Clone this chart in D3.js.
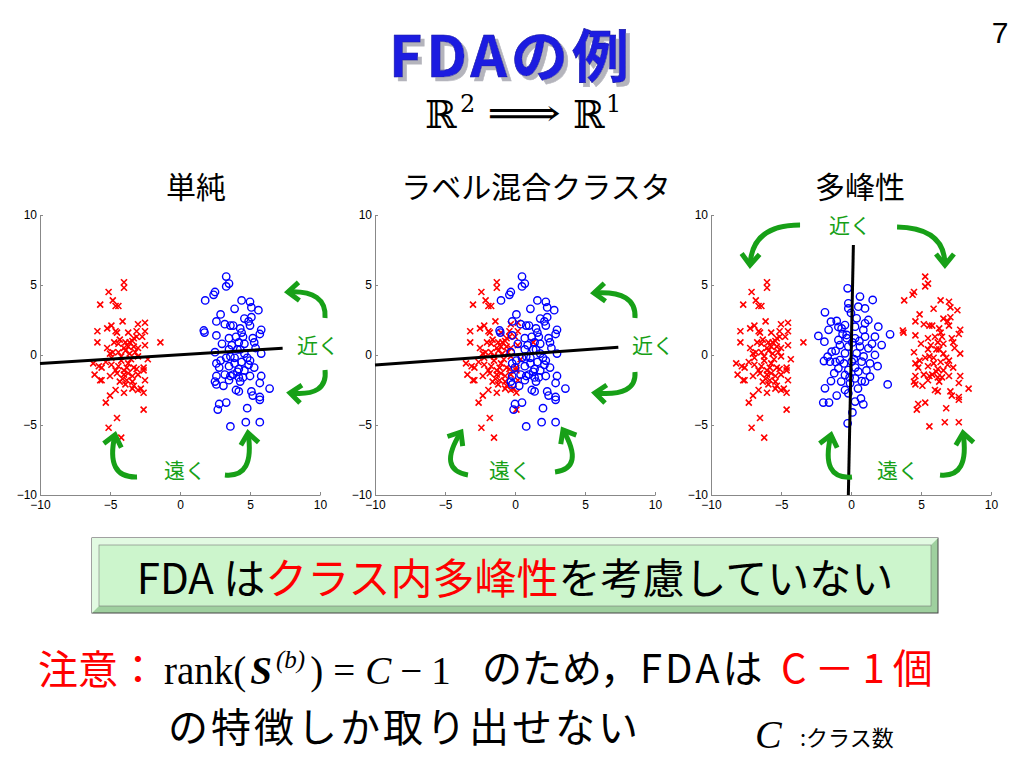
<!DOCTYPE html>
<meta charset="utf-8">
<head>
<script src="https://d3js.org/d3.v7.min.js"></script>
<style>
  body { margin: 0; background: #fff; }
  text { font-family: "Noto Sans CJK JP", "Liberation Sans", sans-serif; }
  .serif { font-family: "Liberation Serif", "DejaVu Serif", serif; }
</style>
</head>
<body>
<svg width="1024" height="768"></svg>
<script>
// ---- data ----
var panelTitles = ["単純", "ラベル混合クラスタ", "多峰性"];
var tickValues = [-10, -5, 0, 5, 10];

// panel 1 : simple
var red1 = [[-4.0,5.2],[-4.0,4.8],[-5.1,4.5],[-5.7,3.6],[-4.8,3.9],[-4.6,3.5],[-4.4,3.5],[-4.1,2.4],[-3.0,2.2],[-2.5,2.3],[-4.9,2.1],[-5.2,1.9],[-5.9,1.7],[-4.6,1.7],[-3.7,1.6],[-3.1,1.7],[-2.5,1.7],[-5.9,0.9],[-1.4,0.9],[-5.2,0.5],[-4.3,1.1],[-3.3,1.2],[-2.7,1.3],[-6.2,-0.6],[-5.6,-0.9],[-6.1,-1.4],[-5.6,-1.8],[-5.0,-1.5],[-2.3,-0.3],[-2.6,-1.1],[-2.5,-1.8],[-2.8,-2.4],[-2.6,-2.7],[-4.6,-2.5],[-5.0,-2.9],[-4.0,-2.7],[-3.4,-2.4],[-5.3,-3.4],[-2.6,-3.9],[-4.5,-4.5],[-5.1,-5.2],[-4.2,-5.9],[-4.5,1.6],[-3.1,1.3],[-3.4,1.0],[-3.9,0.9],[-4.4,0.8],[-2.5,0.7],[-4.0,0.5],[-3.7,0.6],[-4.8,0.2],[-5.0,0.1],[-3.2,0.2],[-4.2,-0.1],[-3.0,-0.1],[-5.8,-0.8],[-4.9,-0.7],[-4.4,-0.8],[-3.7,-0.6],[-3.3,-0.9],[-2.6,-0.9],[-4.5,-1.3],[-4.0,-1.4],[-3.4,-1.5],[-3.0,-1.4],[-5.7,-1.8],[-4.3,-1.9],[-3.8,-1.8],[-3.0,-2.5],[-3.9,0.3],[-3.6,0.1],[-4.2,-0.4],[-3.8,-0.9],[-4.0,-1.1],[-3.5,-0.3],[-4.4,0.2],[-3.3,0.6],[-3.7,-1.3],[-4.1,-1.7],[-3.4,-1.9],[-3.9,-2.1],[-4.6,-1.1],[-3.0,0.5],[-4.7,0.9],[-3.1,-1.0],[-3.6,0.9],[-4.9,-0.2],[-3.3,-2.2],[-5.3,-0.5]];
var blue1 = [[3.3,5.6],[3.5,5.1],[3.3,4.9],[2.5,4.5],[2.4,4.3],[1.8,3.9],[4.4,3.9],[5.0,3.8],[5.1,3.4],[5.6,3.2],[3.9,3.3],[2.9,2.9],[5.1,2.7],[4.9,2.4],[5.0,2.1],[2.6,2.4],[3.2,2.2],[3.8,2.1],[4.3,1.9],[5.8,1.8],[5.7,1.5],[1.7,1.75],[1.75,1.6],[2.6,1.4],[3.0,0.8],[2.5,0.2],[5.8,0.1],[2.6,-0.6],[2.8,-0.9],[5.3,-0.9],[5.8,-1.5],[2.6,-1.5],[2.6,-2.1],[3.6,-1.5],[5.0,-1.5],[6.4,-2.4],[5.7,-2.0],[4.2,-2.6],[5.1,-2.6],[5.2,-2.9],[5.7,-3.2],[3.3,-3.4],[2.8,-3.5],[2.7,-3.9],[4.8,-3.8],[3.6,-5.1],[4.7,-4.8],[5.7,-4.8],[3.6,2.1],[4.5,1.3],[5.2,1.2],[4.2,0.9],[4.6,0.8],[5.4,0.5],[3.5,0.4],[4.1,0.4],[4.6,0.1],[2.9,-0.4],[3.3,-0.2],[3.9,-0.2],[4.4,-0.5],[5.0,-0.4],[3.5,-0.8],[4.2,-1.0],[4.6,-1.1],[3.2,-1.4],[3.8,-1.4],[4.5,-1.6],[2.5,-1.9],[3.5,-1.8],[4.3,-1.9],[4.0,-2.5],[5.7,-3.0],[4.0,1.3],[4.3,0.4],[3.7,0.7],[4.8,-0.2],[3.9,-0.6],[4.1,-1.2],[4.9,-0.7],[3.6,-0.1],[4.4,1.6],[3.5,1.2],[4.6,2.6],[4.2,-1.6],[3.1,-2.2],[5.3,0.9]];
var line1 = [[-10,-0.6],[7.33,0.48]];

// panel 2 : label-mixed clusters
var red2 = [[-1.3,5.2],[-1.3,4.8],[-2.4,4.5],[-3.0,3.6],[-2.1,3.9],[-1.9,3.5],[-1.7,3.5],[-1.4,2.4],[-0.3,2.2],[0.2,2.3],[-2.2,2.1],[-2.5,1.9],[-3.2,1.7],[-1.9,1.7],[-1.0,1.6],[-0.4,1.7],[0.2,1.7],[-3.2,0.9],[1.3,0.9],[-2.5,0.5],[-1.6,1.1],[-0.6,1.2],[0.0,1.3],[-3.5,-0.6],[-2.9,-0.9],[-3.4,-1.4],[-2.9,-1.8],[-2.3,-1.5],[0.4,-0.3],[0.1,-1.1],[0.2,-1.8],[-0.1,-2.4],[0.1,-2.7],[-1.9,-2.5],[-2.3,-2.9],[-1.3,-2.7],[-0.7,-2.4],[-2.6,-3.4],[0.1,-3.9],[-1.8,-4.5],[-2.4,-5.2],[-1.5,-5.9],[-1.8,1.6],[-0.4,1.3],[-0.7,1.0],[-1.2,0.9],[-1.7,0.8],[0.2,0.7],[-1.3,0.5],[-1.0,0.6],[-2.1,0.2],[-2.3,0.1],[-0.5,0.2],[-1.5,-0.1],[-0.3,-0.1],[-3.1,-0.8],[-2.2,-0.7],[-1.7,-0.8],[-1.0,-0.6],[-0.6,-0.9],[0.1,-0.9],[-1.8,-1.3],[-1.3,-1.4],[-0.7,-1.5],[-0.3,-1.4],[-3.0,-1.8],[-1.6,-1.9],[-1.1,-1.8],[-0.3,-2.5],[-1.2,0.3],[-0.9,0.1],[-1.5,-0.4],[-1.1,-0.9],[-1.3,-1.1],[-0.8,-0.3],[-1.7,0.2],[-0.6,0.6],[-1.0,-1.3],[-1.4,-1.7],[-0.7,-1.9],[-1.2,-2.1],[-1.9,-1.1],[-0.3,0.5],[-2.0,0.9],[-0.4,-1.0],[-0.9,0.9],[-2.2,-0.2],[-0.6,-2.2],[-2.6,-0.5]];
var blue2 = [[0.5,5.6],[0.7,5.1],[0.5,4.9],[-0.3,4.5],[-0.4,4.3],[-1.0,3.9],[1.6,3.9],[2.2,3.8],[2.3,3.4],[2.8,3.2],[1.1,3.3],[0.1,2.9],[2.3,2.7],[2.1,2.4],[2.2,2.1],[-0.2,2.4],[0.4,2.2],[1.0,2.1],[1.5,1.9],[3.0,1.8],[2.9,1.5],[-1.1,1.75],[-1.05,1.6],[-0.2,1.4],[0.2,0.8],[-0.3,0.2],[3.0,0.1],[-0.2,-0.6],[0.0,-0.9],[2.5,-0.9],[3.0,-1.5],[-0.2,-1.5],[-0.2,-2.1],[0.8,-1.5],[2.2,-1.5],[3.6,-2.4],[2.9,-2.0],[1.4,-2.6],[2.3,-2.6],[2.4,-2.9],[2.9,-3.2],[0.5,-3.4],[0.0,-3.5],[-0.1,-3.9],[2.0,-3.8],[0.8,-5.1],[1.9,-4.8],[2.9,-4.8],[0.8,2.1],[1.7,1.3],[2.4,1.2],[1.4,0.9],[1.8,0.8],[2.6,0.5],[0.7,0.4],[1.3,0.4],[1.8,0.1],[0.1,-0.4],[0.5,-0.2],[1.1,-0.2],[1.6,-0.5],[2.2,-0.4],[0.7,-0.8],[1.4,-1.0],[1.8,-1.1],[0.4,-1.4],[1.0,-1.4],[1.7,-1.6],[-0.3,-1.9],[0.7,-1.8],[1.5,-1.9],[1.2,-2.5],[2.9,-3.0],[1.2,1.3],[1.5,0.4],[0.9,0.7],[2.0,-0.2],[1.1,-0.6],[1.3,-1.2],[2.1,-0.7],[0.8,-0.1],[1.6,1.6],[0.7,1.2],[1.8,2.6],[1.4,-1.6],[0.3,-2.2],[2.5,0.9]];
var line2 = [[-10,-0.71],[7.38,0.55]];

// panel 3 : multimodal
var red3a = [[-6.0,5.2],[-6.0,4.8],[-7.1,4.5],[-7.7,3.6],[-6.8,3.9],[-6.6,3.5],[-6.4,3.5],[-6.1,2.4],[-5.0,2.2],[-4.5,2.3],[-6.9,2.1],[-7.2,1.9],[-7.9,1.7],[-6.6,1.7],[-5.7,1.6],[-5.1,1.7],[-4.5,1.7],[-7.9,0.9],[-3.4,0.9],[-7.2,0.5],[-6.3,1.1],[-5.3,1.2],[-4.7,1.3],[-8.2,-0.6],[-7.6,-0.9],[-8.1,-1.4],[-7.6,-1.8],[-7.0,-1.5],[-4.3,-0.3],[-4.6,-1.1],[-4.5,-1.8],[-4.8,-2.4],[-4.6,-2.7],[-6.6,-2.5],[-7.0,-2.9],[-6.0,-2.7],[-5.4,-2.4],[-7.3,-3.4],[-4.6,-3.9],[-6.5,-4.5],[-7.1,-5.2],[-6.2,-5.9],[-6.5,1.6],[-5.1,1.3],[-5.4,1.0],[-5.9,0.9],[-6.4,0.8],[-4.5,0.7],[-6.0,0.5],[-5.7,0.6],[-6.8,0.2],[-7.0,0.1],[-5.2,0.2],[-6.2,-0.1],[-5.0,-0.1],[-7.8,-0.8],[-6.9,-0.7],[-6.4,-0.8],[-5.7,-0.6],[-5.3,-0.9],[-4.6,-0.9],[-6.5,-1.3],[-6.0,-1.4],[-5.4,-1.5],[-5.0,-1.4],[-7.7,-1.8],[-6.3,-1.9],[-5.8,-1.8],[-5.0,-2.5],[-5.9,0.3],[-5.6,0.1],[-6.2,-0.4],[-5.8,-0.9],[-6.0,-1.1],[-5.5,-0.3],[-6.4,0.2],[-5.3,0.6],[-5.7,-1.3],[-6.1,-1.7],[-5.4,-1.9],[-5.9,-2.1],[-6.6,-1.1],[-5.0,0.5],[-6.7,0.9],[-5.1,-1.0],[-5.6,0.9],[-6.9,-0.2],[-5.3,-2.2],[-7.3,-0.5]];
var red3b = [[5.3,5.6],[5.5,5.1],[5.3,4.9],[4.5,4.5],[4.4,4.3],[3.8,3.9],[6.4,3.9],[7.0,3.8],[7.1,3.4],[7.6,3.2],[5.9,3.3],[4.9,2.9],[7.1,2.7],[6.9,2.4],[7.0,2.1],[4.6,2.4],[5.2,2.2],[5.8,2.1],[6.3,1.9],[7.8,1.8],[7.7,1.5],[3.7,1.75],[3.75,1.6],[4.6,1.4],[5.0,0.8],[4.5,0.2],[7.8,0.1],[4.6,-0.6],[4.8,-0.9],[7.3,-0.9],[7.8,-1.5],[4.6,-1.5],[4.6,-2.1],[5.6,-1.5],[7.0,-1.5],[8.4,-2.4],[7.7,-2.0],[6.2,-2.6],[7.1,-2.6],[7.2,-2.9],[7.7,-3.2],[5.3,-3.4],[4.8,-3.5],[4.7,-3.9],[6.8,-3.8],[5.6,-5.1],[6.7,-4.8],[7.7,-4.8],[5.6,2.1],[6.5,1.3],[7.2,1.2],[6.2,0.9],[6.6,0.8],[7.4,0.5],[5.5,0.4],[6.1,0.4],[6.6,0.1],[4.9,-0.4],[5.3,-0.2],[5.9,-0.2],[6.4,-0.5],[7.0,-0.4],[5.5,-0.8],[6.2,-1.0],[6.6,-1.1],[5.2,-1.4],[5.8,-1.4],[6.5,-1.6],[4.5,-1.9],[5.5,-1.8],[6.3,-1.9],[6.0,-2.5],[7.7,-3.0],[6.0,1.3],[6.3,0.4],[5.7,0.7],[6.8,-0.2],[5.9,-0.6],[6.1,-1.2],[6.9,-0.7],[5.6,-0.1],[6.4,1.6],[5.5,1.2],[6.6,2.6],[6.2,-1.6],[5.1,-2.2],[7.3,0.9]];
var blue3 = [[-0.24,4.76],[0.64,4.17],[1.55,3.93],[-0.19,3.69],[0.52,3.45],[1.0,3.33],[-0.19,3.33],[-1.86,3.05],[-1.43,2.38],[-1.02,2.43],[-0.43,2.14],[0.4,2.62],[1.24,2.5],[1.0,2.26],[-0.67,1.9],[0.29,2.02],[1.95,2.02],[0.88,1.79],[2.79,1.48],[-2.33,1.36],[1.71,1.31],[-0.31,1.43],[-1.9,0.95],[-0.9,1.07],[0.29,1.19],[1.0,1.31],[2.19,0.71],[-0.79,0.71],[-0.19,0.6],[0.64,0.6],[1.24,0.48],[-1.38,0.24],[-0.43,0.12],[0.4,0.12],[1.71,0.0],[-1.67,-0.12],[-1.93,-0.43],[-1.5,-0.48],[-0.79,-0.36],[0.05,-0.48],[0.76,-0.48],[1.36,-0.6],[-0.9,-0.95],[-0.19,-1.07],[0.52,-1.19],[-0.43,-1.43],[0.29,-1.67],[0.76,-1.86],[1.36,-1.55],[1.0,-1.9],[-1.43,-1.86],[2.62,-2.1],[-0.07,-2.02],[-1.86,-2.38],[-0.43,-2.5],[-1.02,-2.9],[-0.19,-2.74],[0.71,-3.1],[-1.98,-3.4],[-1.57,-3.4],[0.29,-3.33],[0.88,-3.52],[0.1,-4.1],[-0.24,-4.88],[-0.6,1.5],[0.1,0.9],[-1.1,0.3],[0.9,-0.1],[-0.5,-0.6],[0.2,-0.3],[-1.2,-1.3],[0.6,1.0],[-0.9,2.0],[1.5,0.8],[-0.1,-1.6],[1.1,-1.1],[-1.6,1.8],[0.5,-2.4],[-0.7,-1.9],[1.9,-0.8],[-1.1,-0.5],[0.0,3.0],[0.3,-0.9],[-0.3,1.2]];
var line3 = [[0.17,7.86],[-0.19,-10]];

// green annotation arrows [start, control, tip] and labels, in data units
var arrows1 = [[[10.36,2.64],[10.5,4.64],[7.71,4.5]], [[10.36,-1.07],[10.57,-3.0],[7.86,-2.71]], [[-3.07,-8.71],[-5.36,-8.79],[-4.64,-5.71]], [[3.21,-8.57],[5.36,-8.79],[4.86,-5.57]]];
var arrows2 = [[[8.57,2.64],[8.71,4.64],[5.64,4.43]], [[8.57,-1.21],[8.71,-3.0],[5.71,-2.71]], [[-3.36,-8.57],[-5.57,-8.21],[-3.86,-5.5]], [[2.86,-8.36],[5.0,-8.07],[3.43,-5.36]]];
var arrows3 = [[[-3.64,9.29],[-7.07,9.29],[-7.21,6.43]], [[3.29,9.14],[6.71,9.07],[6.71,6.43]], [[0.07,-8.71],[-2.21,-8.93],[-1.43,-5.71]], [[6.36,-8.57],[8.5,-8.79],[8.0,-5.57]]];
var labels1 = [["近く",9.86,0.71],["遠く",0.36,-8.2]];
var labels2 = [["近く",9.86,0.71],["遠く",-0.36,-8.2]];
var labels3 = [["近く",-0.07,9.29],["遠く",3.36,-8.2]];

var panels = [
  {left: 40,  title: panelTitles[0], titleX: 196, red: [red1], blue: blue1, line: line1, arrows: arrows1, labels: labels1},
  {left: 375, title: panelTitles[1], titleX: 536, red: [red2], blue: blue2, line: line2, arrows: arrows2, labels: labels2},
  {left: 711, title: panelTitles[2], titleX: 860, red: [red3a, red3b], blue: blue3, line: line3, arrows: arrows3, labels: labels3}
];

var green = "#17a017";
var svg = d3.select("svg");
svg.append("rect").attr("width", 1024).attr("height", 768).attr("fill", "#fff");

var defs = svg.append("defs");
defs.append("marker")
  .attr("id", "chev").attr("markerUnits", "userSpaceOnUse")
  .attr("viewBox", "-14 -12 18 24").attr("markerWidth", 18).attr("markerHeight", 24)
  .attr("refX", 0).attr("refY", 0).attr("orient", "auto")
  .append("path").attr("d", "M-11,-9L0,0L-11,9")
  .attr("fill", "none").attr("stroke", green).attr("stroke-width", 5)
  .attr("stroke-linejoin", "miter");

// hard grey drop shadow for the slide title
var sh = defs.append("filter").attr("id", "shadow").attr("x", "-5%").attr("y", "-10%").attr("width", "115%").attr("height", "130%");
sh.append("feOffset").attr("in", "SourceAlpha").attr("dx", 4).attr("dy", 4).attr("result", "off");
sh.append("feFlood").attr("flood-color", "#b4b4bc").attr("result", "col");
sh.append("feComposite").attr("in", "col").attr("in2", "off").attr("operator", "in").attr("result", "shd");
var mg = sh.append("feMerge");
mg.append("feMergeNode").attr("in", "shd");
mg.append("feMergeNode").attr("in", "SourceGraphic");

// ---- header ----
svg.append("text").attr("x", 511).attr("y", 77).attr("text-anchor", "middle")
  .attr("font-size", 57).attr("font-weight", "bold").attr("letter-spacing", 4)
  .attr("fill", "#1e1ee0").attr("stroke", "#1010a0").attr("stroke-width", 0.6)
  .attr("filter", "url(#shadow)").text("FDAの例");
svg.append("text").attr("x", 1000).attr("y", 43).attr("text-anchor", "middle")
  .style("font-family", "Liberation Sans, Arial").attr("font-size", 30).text("7");

// R^2 => R^1 as separate pieces [text, x, y, size, stretched width]
var rParts = [["ℝ", 425, 128, 38, 0], ["2", 460, 112, 24, 0], ["⟹", 487, 126, 38, 74], ["ℝ", 573, 128, 38, 0], ["1", 606, 112, 24, 0]];
svg.selectAll(".rr").data(rParts).enter().append("text")
  .style("font-family", "DejaVu Serif, serif")
  .attr("x", function(d) { return d[1]; }).attr("y", function(d) { return d[2]; })
  .attr("font-size", function(d) { return d[3]; })
  .attr("textLength", function(d) { return d[4] || null; })
  .attr("lengthAdjust", function(d) { return d[4] ? "spacingAndGlyphs" : null; })
  .text(function(d) { return d[0]; });

// ---- panels ----
panels.forEach(function(p) {
  var x = d3.scaleLinear().domain([-10, 10]).range([p.left, p.left + 280]);
  var y = d3.scaleLinear().domain([-10, 10]).range([495, 215]);
  var g = svg.append("g");

  g.append("text").attr("x", p.titleX).attr("y", 198).attr("text-anchor", "middle")
    .attr("font-size", 30).text(p.title);

  var ax = g.append("g").attr("transform", "translate(0,495)")
    .call(d3.axisBottom(x).tickValues(tickValues).tickSizeInner(-3).tickSizeOuter(0).tickPadding(5));
  var ay = g.append("g").attr("transform", "translate(" + p.left + ",0)")
    .call(d3.axisLeft(y).tickValues(tickValues).tickSizeInner(-3).tickSizeOuter(0).tickPadding(3));
  [ax, ay].forEach(function(a) {
    a.select(".domain").attr("stroke", "#888");
    a.selectAll(".tick line").attr("stroke", "#888");
    a.selectAll(".tick text").style("font-family", "Liberation Sans, Arial, sans-serif")
      .style("font-size", "12px").attr("fill", "#000");
  });

  p.red.forEach(function(set) {
    g.append("g").selectAll("path").data(set).enter().append("path")
      .attr("transform", function(d) { return "translate(" + x(d[0]) + "," + y(d[1]) + ")"; })
      .attr("d", "M-3,-3L3,3M-3,3L3,-3")
      .attr("stroke", "#ff0000").attr("stroke-width", 1.6).attr("fill", "none");
  });
  g.append("g").selectAll("circle").data(p.blue).enter().append("circle")
    .attr("cx", function(d) { return x(d[0]); })
    .attr("cy", function(d) { return y(d[1]); })
    .attr("r", 3.7).attr("fill", "none").attr("stroke", "#0000ff").attr("stroke-width", 1.4);

  g.append("path").datum(p.line)
    .attr("d", d3.line().x(function(d) { return x(d[0]); }).y(function(d) { return y(d[1]); }))
    .attr("stroke", "#000").attr("stroke-width", 3).attr("fill", "none");

  g.selectAll(".arr").data(p.arrows).enter().append("path")
    .attr("d", function(a) {
      return "M" + x(a[0][0]) + "," + y(a[0][1]) + "Q" + x(a[1][0]) + "," + y(a[1][1]) + " " + x(a[2][0]) + "," + y(a[2][1]);
    })
    .attr("fill", "none").attr("stroke", green).attr("stroke-width", 5)
    .attr("marker-end", "url(#chev)");

  g.selectAll(".lab").data(p.labels).enter().append("text")
    .attr("x", function(d) { return x(d[1]); })
    .attr("y", function(d) { return y(d[2]) + 8; })
    .attr("text-anchor", "middle").attr("font-size", 21).attr("fill", green)
    .text(function(d) { return d[0]; });
});

// ---- bevelled green box ----
var box = svg.append("g");
box.append("rect").attr("x", 92).attr("y", 538).attr("width", 846).attr("height", 75)
  .attr("fill", "#9fd09f").attr("stroke", "#444").attr("stroke-width", 1);
box.append("polygon").attr("points", "92,538 938,538 931,545 99,545 99,606 92,613")
  .attr("fill", "#e2fae2");
box.append("rect").attr("x", 99).attr("y", 545).attr("width", 832).attr("height", 61)
  .attr("fill", "#ccf5cc").attr("stroke", "#777").attr("stroke-width", 0.6);
var bt = box.append("text").attr("x", 515).attr("y", 594).attr("text-anchor", "middle")
  .attr("font-size", 42);
bt.append("tspan").text("FDA は");
bt.append("tspan").attr("fill", "#ff0000").text("クラス内多峰性");
bt.append("tspan").text("を考慮していない");

// ---- bottom note ----
svg.append("text").attr("x", 38).attr("y", 684).attr("font-size", 40).attr("fill", "#ff0000").text("注意：");

// rank(S^(b)) = C - 1 laid out piece by piece, left to right
var formula = [["rank(", 39, 0, "normal", "normal"], ["S", 39, 0, "italic", "bold"], ["(b)", 25, -16, "italic", "normal"],
               [")", 39, 0, "normal", "normal"], ["=", 39, 0, "normal", "normal"], ["C", 39, 0, "italic", "normal"], ["−", 39, 0, "normal", "normal"], ["1", 39, 0, "normal", "normal"]];
var gaps = [4, 4, 5, 10, 10, 9, 9, 0];
var fx = 164;
formula.forEach(function(d, i) {
  var t = svg.append("text").attr("class", "serif").attr("x", fx).attr("y", 684 + d[2])
    .attr("font-size", d[1]).attr("font-style", d[3]).attr("font-weight", d[4]).text(d[0]);
  fx += t.node().getComputedTextLength() + gaps[i];
});

var t1 = svg.append("text").attr("x", 482).attr("y", 683).attr("font-size", 40);
t1.append("tspan").text("のため，");
t1.append("tspan").attr("letter-spacing", 3).text("FDAは");
svg.append("text").attr("x", 781).attr("y", 683).attr("font-size", 40)
  .attr("fill", "#ff0000").attr("letter-spacing", 8).text("C－1個");

svg.append("text").attr("x", 168).attr("y", 742).attr("font-size", 40).attr("letter-spacing", 3)
  .text("の特徴しか取り出せない");
svg.append("text").attr("class", "serif").attr("x", 755).attr("y", 748).attr("font-size", 40)
  .attr("font-style", "italic").text("C");
svg.append("text").attr("x", 800).attr("y", 746).attr("font-size", 22).text(":クラス数");
</script>
</body>
</html>
